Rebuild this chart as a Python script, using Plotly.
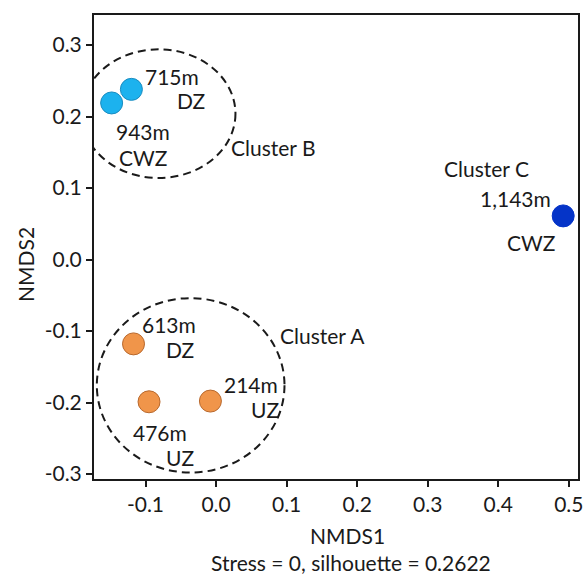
import plotly.graph_objects as go

# ---- data ----
labels_depth = ["715m", "943m", "1,143m", "613m", "476m", "214m"]
labels_zone = ["DZ", "CWZ", "CWZ", "DZ", "UZ", "UZ"]
clusters = ["B", "B", "C", "A", "A", "A"]
nmds1 = [-0.120, -0.148, 0.492, -0.117, -0.095, -0.008]
nmds2 = [0.238, 0.219, 0.061, -0.118, -0.199, -0.198]

cluster_names = ["Cluster A", "Cluster B", "Cluster C"]
# ellipse (center x, center y, radius x, radius y) for clusters A, B
ellipse_A = (-0.036, -0.176, 0.133, 0.122)
ellipse_B = (-0.0815, 0.204, 0.109, 0.090)

x_ticks = [-0.1, 0.0, 0.1, 0.2, 0.3, 0.4, 0.5]
y_ticks = [-0.3, -0.2, -0.1, 0.0, 0.1, 0.2, 0.3]

stress_text = "Stress = 0, silhouette = 0.2622"

# ---- styles ----
colors = {"A": "#F0954A", "B": "#1CB2EE", "C": "#0534C8"}
outline = {"A": "#B8692E", "B": "#1A8CC0", "C": "#0534C8"}
FONT = "Lato, 'Open Sans', sans-serif"
TXT = "#1a1a1a"
FS = 21

fig = go.Figure()
for c in ["B", "C", "A"]:
    idx = [i for i, k in enumerate(clusters) if k == c]
    fig.add_trace(go.Scatter(
        x=[nmds1[i] for i in idx], y=[nmds2[i] for i in idx],
        mode="markers",
        marker=dict(size=22, color=colors[c], line=dict(color=outline[c], width=1)),
        showlegend=False, hoverinfo="skip"))

for (cx, cy, rx, ry) in [ellipse_A, ellipse_B]:
    fig.add_shape(type="circle", xref="x", yref="y",
                  x0=cx - rx, x1=cx + rx, y0=cy - ry, y1=cy + ry,
                  line=dict(color="#1a1a1a", width=2, dash="8px,5px"),
                  layer="below")

# label positions (data coordinates) per point: (depth pos, zone pos)
label_pos = [
    ((-0.0625, 0.256), (-0.036, 0.222)),   # 715m DZ
    ((-0.103, 0.179), (-0.103, 0.142)),    # 943m CWZ
    ((0.425, 0.086), (0.447, 0.0235)),     # 1,143m CWZ
    ((-0.0667, -0.0915), (-0.051, -0.1265)),# 613m DZ
    ((-0.079, -0.2425), (-0.051, -0.2775)),  # 476m UZ
    ((0.050, -0.1745), (0.0695, -0.210)),  # 214m UZ
]
annots = []
for i, (dp, zp) in enumerate(label_pos):
    annots.append(dict(x=dp[0], y=dp[1], text=labels_depth[i], xref="x", yref="y",
                       showarrow=False, font=dict(family=FONT, size=FS, color=TXT)))
    annots.append(dict(x=zp[0], y=zp[1], text=labels_zone[i], xref="x", yref="y",
                       showarrow=False, font=dict(family=FONT, size=FS, color=TXT)))

cluster_pos = [(0.151, -0.1056), (0.081, 0.157), (0.383, 0.128)]
for name, (x, y) in zip(cluster_names, cluster_pos):
    annots.append(dict(x=x, y=y, text=name, xref="x", yref="y", showarrow=False,
                       font=dict(family=FONT, size=FS, color=TXT)))

annots.append(dict(x=0.5235, y=-0.1207, xref="paper", yref="paper", text="NMDS1",
                   showarrow=False, xanchor="center", yanchor="middle",
                   font=dict(family=FONT, size=FS, color=TXT)))
annots.append(dict(x=0.5307, y=-0.1789, xref="paper", yref="paper", text=stress_text,
                   showarrow=False, xanchor="center", yanchor="middle",
                   font=dict(family=FONT, size=FS, color=TXT)))
annots.append(dict(x=-0.143, y=0.463, xref="paper", yref="paper", text="NMDS2",
                   showarrow=False, xanchor="center", yanchor="middle", textangle=-90,
                   font=dict(family=FONT, size=FS, color=TXT)))

axis_common = dict(showgrid=False, zeroline=False, showline=True, mirror=True,
                   linecolor="#1a1a1a", linewidth=2, ticks="outside", ticklen=6,
                   tickwidth=1.5, tickcolor="#1a1a1a",
                   tickfont=dict(family=FONT, size=FS, color=TXT))

fig.update_layout(
    width=587, height=579,
    margin=dict(l=94, r=4, t=15, b=100),
    plot_bgcolor="white", paper_bgcolor="white",
    xaxis=dict(range=[-0.173, 0.513], tickvals=x_ticks,
               ticktext=[f"{v:.1f}" for v in x_ticks], **axis_common),
    yaxis=dict(range=[-0.307, 0.342], tickvals=y_ticks,
               ticktext=[f"{v:.1f}" for v in y_ticks], **axis_common),
    annotations=annots,
)

fig.write_html("out.html")
